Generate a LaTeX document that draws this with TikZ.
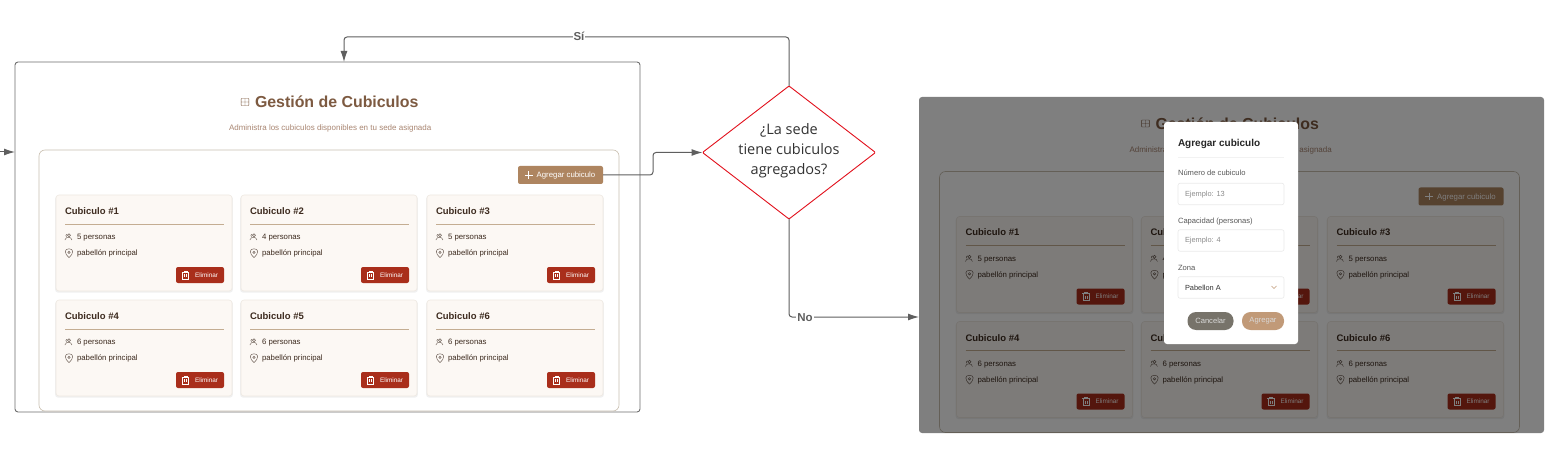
\documentclass[tikz,border=0pt]{standalone}
\usepackage{fontspec}
\usepackage{xcolor}
\setmainfont{Liberation Sans}
\newfontfamily\decisionfont{Open Sans}
\usetikzlibrary{arrows.meta,shapes.geometric,shadows}
\definecolor{linecolor}{HTML}{5F5F5F}
\definecolor{framecolor}{HTML}{6E6E6E}
\definecolor{decidecolor}{HTML}{E2101C}
\definecolor{headcolor}{HTML}{7D5A41}
\definecolor{subcolor}{HTML}{A98672}
\definecolor{panelcolor}{HTML}{C9BFB0}
\definecolor{cardcolor}{HTML}{FCF8F4}
\definecolor{cardedge}{HTML}{EFE9E2}
\definecolor{rulecolor}{HTML}{C4AD92}
\definecolor{inkcolor}{HTML}{3D2B1F}
\definecolor{deletecolor}{HTML}{A92E1B}
\definecolor{addcolor}{HTML}{AE8560}
\definecolor{cancelcolor}{HTML}{77736A}
\definecolor{acceptcolor}{HTML}{C19A78}
\definecolor{fieldedge}{HTML}{EAEAEA}
\tikzset{box/.style={rectangle,inner sep=0pt,outer sep=0pt},screen/.style={box,draw=framecolor,line width=.9pt,rounded corners=3pt,minimum width=625,minimum height=350},shade screen/.style={box,fill=white,rounded corners=3pt,minimum width=625,minimum height=336},panel/.style={box,draw=panelcolor,fill=white,line width=.6pt,rounded corners=6pt,minimum width=580,minimum height=261},card/.style={box,draw=cardedge,fill=cardcolor,line width=.6pt,rounded corners=3pt,minimum width=176,minimum height=96,general shadow={fill=black,opacity=.06,shadow xshift=0pt,shadow yshift=-1.2pt,shadow scale=1.01}},delete/.style={box,fill=deletecolor,rounded corners=2pt,minimum width=48,minimum height=16},add/.style={box,fill=addcolor,rounded corners=2pt,minimum width=85,minimum height=18},label/.style={inner sep=0pt,outer sep=0pt,anchor=base west},cardtitle/.style={label,text=inkcolor,font=\fontsize{9.5}{11}\selectfont\bfseries},cardtext/.style={label,text=inkcolor,font=\fontsize{7.8}{9}\selectfont},buttontext/.style={label,text=white,font=\fontsize{6.4}{8}\selectfont},flowline/.style={draw=linecolor,line width=1pt,rounded corners=3pt},flow/.style={flowline,-{Latex[length=11pt,width=7pt]}},flowlabel/.style={fill=white,inner sep=1pt,text=linecolor,font=\fontsize{11.5}{13}\selectfont\bfseries},decision/.style={diamond,aspect=1.3,draw=decidecolor,fill=white,line width=.9pt,rounded corners=1pt,inner sep=0pt,outer sep=0pt,minimum width=173,minimum height=133},decisiontext/.style={inner sep=0pt,outer sep=0pt,align=center,text=black!80,font=\decisionfont\fontsize{14.5}{20}\selectfont},field/.style={box,draw=fieldedge,fill=white,line width=.6pt,rounded corners=2pt,minimum width=106,minimum height=21.5},fieldlabel/.style={label,text=black!65,font=\fontsize{7.6}{9}\selectfont},fieldtext/.style={label,text=black!45,font=\fontsize{7.4}{9}\selectfont},pill/.style={box,rounded corners=8.5pt,minimum height=18,text=white!85!black,font=\fontsize{7.6}{9}\selectfont}}
\tikzset{pics/peopleicon/.style={code={\draw[draw=inkcolor!75,line width=.45pt] (.5,-1.7) circle[radius=1.5] (-3.6,3) .. controls (-3,-.6) and (3,-.6) .. (3.4,3) (-1.5,-2.8) .. controls (-3,-2.4) and (-3,-.6) .. (-2,0);}},pics/pinicon/.style={code={\draw[draw=inkcolor!80,line width=.45pt] (0,4.6) .. controls (-5.4,-.4) and (-4.4,-4.2) .. (0,-4.2) .. controls (4.4,-4.2) and (5.4,-.4) .. (0,4.6) (0,-.7) circle[radius=1.2];}},pics/trashicon/.style={code={\draw[draw=white,line width=.5pt] (-3.6,-2.8) -- (3.6,-2.8) (-1.6,-2.8) -- (-1.6,-4.2) -- (1.6,-4.2) -- (1.6,-2.8) (-2.8,-2.8) -- (-2.8,4.2) -- (2.8,4.2) -- (2.8,-2.8) (-1,-.8) -- (-1,2.2) (1,-.8) -- (1,2.2);}},pics/tableicon/.style={code={\draw[draw=headcolor,line width=.45pt,rounded corners=.6pt] (-3.8,-3.5) rectangle (3.8,3.5) (-3.8,0) -- (3.8,0) (0,-3.5) -- (0,3.5);}},pics/plusicon/.style={code={\draw[draw=white,line width=.6pt] (-3.8,0) -- (3.8,0) (0,-3.8) -- (0,3.8);}}}

\begin{document}
\begin{tikzpicture}[x=1pt,y=-1pt]
 \path[use as bounding box,fill=white] (0,0) rectangle (1550,457);

 \node[screen] (screen-a) at (327.5,237) {};
 \node[shade screen] (screen-b) at (1231.5,265) {};

 % Both screens hold the same page, the second one moved and dimmed.
 \foreach \sc/\ox/\oy in {a/0/0,b/900.5/21.5} {
 \begin{scope}[shift={(\ox,\oy)}]
  \pic at (245,102) {tableicon};
  \node[label,text=headcolor,font=\fontsize{15.9}{19}\selectfont\bfseries] (head-\sc) at (255,108) {Gestión de Cubiculos};
  \node[label,text=subcolor,font=\fontsize{8}{9}\selectfont] (sub-\sc) at (229,130.7) {Administra los cubiculos disponibles en tu sede asignada};
  \node[panel] (panel-\sc) at (329,280.5) {};
  \node[add] (addbtn-\sc) at (560.5,175) {};
  \pic at (528.7,175) {plusicon};
  \node[label,text=white,font=\fontsize{7.8}{9}\selectfont] (addtext-\sc) at (536.7,177.8) {Agregar cubiculo};
  \foreach \n/\cx/\cy/\pers in {1/56/195/5,2/241/195/4,3/427/195/5,4/56/300/6,5/241/300/6,6/427/300/6} {
   \node[card] (card-\sc-\n) at (\cx+88,\cy+48) {};
   \node[cardtitle] (title-\sc-\n) at (\cx+9,\cy+19.5) {Cubiculo \#\n};
   \draw[rulecolor,line width=.6pt] (\cx+9,\cy+29) -- (\cx+168,\cy+29);
   \pic at (\cx+12.5,\cy+42) {peopleicon};
   \node[cardtext] (people-\sc-\n) at (\cx+21,\cy+44.8) {\pers{} personas};
   \pic at (\cx+13,\cy+58) {pinicon};
   \node[cardtext] (place-\sc-\n) at (\cx+21,\cy+60.8) {pabellón principal};
   \node[delete] (delete-\sc-\n) at (\cx+144,\cy+80) {};
   \pic at (\cx+129.5,\cy+80) {trashicon};
   \node[buttontext] (deltext-\sc-\n) at (\cx+139,\cy+82.2) {Eliminar};
  }
 \end{scope}
 }
 \node[shade screen,fill=black,fill opacity=.5] (overlay) at (1231.5,265) {};

 \node[box,fill=white,rounded corners=3pt,minimum width=134,minimum height=222] (modal) at (1231,233) {};
 \node[label,text=black!85,font=\fontsize{10}{12}\selectfont\bfseries] (modaltitle) at (1178,146.5) {Agregar cubiculo};
 \draw[black!5,line width=.6pt] (1178,157.5) -- (1284,157.5);
 \node[fieldlabel] (numlabel) at (1178,176) {Número de cubiculo};
 \node[field] (numfield) at (1231,194) {};
 \node[fieldtext] (numtext) at (1185,196.5) {Ejemplo: 13};
 \node[fieldlabel] (caplabel) at (1178,223) {Capacidad (personas)};
 \node[field] (capfield) at (1231,240.5) {};
 \node[fieldtext] (captext) at (1185,243) {Ejemplo: 4};
 \node[fieldlabel] (zonelabel) at (1178,270) {Zona};
 \node[field] (zonefield) at (1231,287.5) {};
 \node[fieldtext,text=black!80] (zonetext) at (1185,290) {Pabellon A};
 \draw[acceptcolor,line width=.6pt] (1271.5,286) -- (1274,288.5) -- (1276.5,286);
 \node[pill,fill=cancelcolor,minimum width=46] (cancelbtn) at (1210.5,321) {Cancelar};
 \node[pill,fill=acceptcolor,minimum width=42] (acceptbtn) at (1263,321) {Agregar};

 \node[decision] (decide) at (789,152.5) {};
 \node[decisiontext] (decidetext) at (789,150.5) {¿La sede\\tiene cubiculos\\agregados?};

 \coordinate (entry) at (0,152);
 \coordinate (yesturn) at (344,37);
 \coordinate (addturn) at (653,160);
 \coordinate (noend) at (919,317);
 \draw[flow] (entry) -- (screen-a.west |- entry);
 \draw[flow] (decide.north) |- (yesturn) -- (yesturn |- screen-a.north);
 \draw[flow] (addbtn-a.east) -| (addturn) |- (decide.west);
 \draw[flow] (decide.south) |- (noend);
 \node[flowlabel] (yes) at (579,36.5) {Sí};
 \node[flowlabel] (no) at (805,317.5) {No};
\end{tikzpicture}
\end{document}
